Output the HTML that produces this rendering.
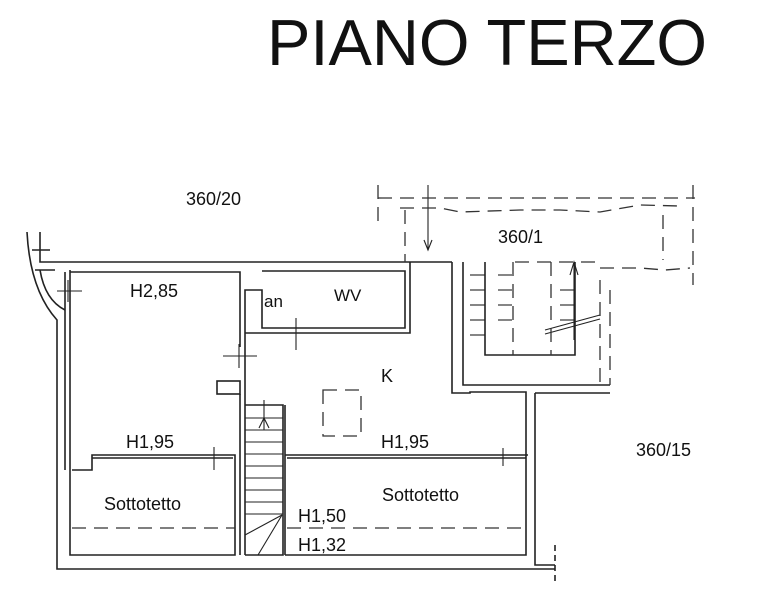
<!DOCTYPE html>
<html><head><meta charset="utf-8"><style>
html,body{margin:0;padding:0;background:#fff;width:767px;height:600px;overflow:hidden}
svg{display:block}
text{font-family:"Liberation Sans",Arial,sans-serif;fill:#111}
</style></head><body>
<svg width="767" height="600" viewBox="0 0 767 600" xmlns="http://www.w3.org/2000/svg">
<text x="267" y="65" font-size="65" textLength="440" lengthAdjust="spacingAndGlyphs">PIANO TERZO</text>
<text x="186" y="205" font-size="18">360/20</text>
<text x="498" y="243" font-size="18">360/1</text>
<text x="636" y="456" font-size="18">360/15</text>
<text x="130" y="297" font-size="18">H2,85</text>
<text x="264" y="307" font-size="17">an</text>
<text x="334" y="301" font-size="17">WV</text>
<text x="381" y="382" font-size="18">K</text>
<text x="126" y="448" font-size="18">H1,95</text>
<text x="381" y="448" font-size="18">H1,95</text>
<text x="104" y="510" font-size="18">Sottotetto</text>
<text x="382" y="501" font-size="18">Sottotetto</text>
<text x="298" y="522" font-size="18">H1,50</text>
<text x="298" y="551" font-size="18">H1,32</text>
<g fill="none" stroke="#222" stroke-width="1.6">
<polyline points="40,232 40,262 452,262"/>
<path d="M27,232 Q30,290 57,320 L57,569 L555,569"/>
<path d="M40,270 Q45,300 65,310"/>
<line x1="32" y1="250" x2="50" y2="250"/>
<line x1="35" y1="270" x2="55" y2="270"/>
<polyline points="70,270 70,555 235,555 235,455 92,455 92,470 72,470"/>
<polyline points="70,272 240,272 240,347"/>
<polyline points="65,272 65,470"/>
<rect x="217" y="381" width="23" height="13"/>
<line x1="240" y1="394" x2="240" y2="555"/>
<polyline points="262,271 405,271 405,328 262,328 262,290 245,290 245,555"/>
<polyline points="245,333 410,333 410,262"/>
<polyline points="245,555 283,555 283,405 245,405"/>
<polyline points="285,555 285,405"/>
<g stroke-width="1.1">
<line x1="245" y1="418" x2="283" y2="418"/><line x1="245" y1="430" x2="283" y2="430"/>
<line x1="245" y1="442" x2="283" y2="442"/><line x1="245" y1="454" x2="283" y2="454"/>
<line x1="245" y1="466" x2="283" y2="466"/><line x1="245" y1="478" x2="283" y2="478"/>
<line x1="245" y1="490" x2="283" y2="490"/><line x1="245" y1="502" x2="283" y2="502"/>
<line x1="245" y1="514" x2="283" y2="514"/>
<line x1="264" y1="400" x2="264" y2="430"/>
<polyline points="259,428 264,418 269,428"/>
<line x1="245" y1="535" x2="282" y2="515"/><line x1="258" y1="555" x2="282" y2="515"/>
</g>
<polyline points="285,455 528,455"/>
<polyline points="287,458 526,458"/>
<polyline points="92,458 233,458"/>
<polyline points="452,262 452,393 470,393 470,392 526,392 526,555 285,555"/>
<polyline points="463,262 463,385 610,385"/>
<polyline points="535,393 610,393"/>
<polyline points="535,393 535,565 555,565"/>
<polyline points="485,262 485,355 575,355 575,262"/>
<line x1="555" y1="545" x2="555" y2="585" stroke-dasharray="6,4"/>
<g stroke-width="1.1">
<line x1="57" y1="291" x2="82" y2="291"/><line x1="68" y1="280" x2="68" y2="302"/>
<line x1="223" y1="356" x2="257" y2="356"/><line x1="239" y1="344" x2="239" y2="368"/>
<line x1="214" y1="447" x2="214" y2="470"/>
<line x1="296" y1="318" x2="296" y2="350"/>
<line x1="503" y1="448" x2="503" y2="466"/>
<line x1="428" y1="185" x2="428" y2="250"/><polyline points="424,240 428,250 432,240"/>
<line x1="574" y1="262" x2="574" y2="340"/><polyline points="570,275 574,262 578,275"/>
<line x1="545" y1="330" x2="600" y2="315"/><line x1="545" y1="334" x2="600" y2="319"/>
</g>
<g stroke-width="1.1">
<line x1="470" y1="275" x2="485" y2="275"/><line x1="470" y1="290" x2="485" y2="290"/>
<line x1="470" y1="305" x2="485" y2="305"/><line x1="470" y1="320" x2="485" y2="320"/>
<line x1="470" y1="335" x2="485" y2="335"/>
<line x1="498" y1="275" x2="512" y2="275"/><line x1="498" y1="290" x2="512" y2="290"/>
<line x1="498" y1="305" x2="512" y2="305"/><line x1="498" y1="320" x2="512" y2="320"/>
<line x1="560" y1="290" x2="575" y2="290"/><line x1="560" y1="305" x2="575" y2="305"/>
<line x1="560" y1="320" x2="575" y2="320"/>
</g>
</g>
<g fill="none" stroke="#333" stroke-width="1.3" stroke-dasharray="14,8">
<line x1="72" y1="528" x2="235" y2="528"/>
<line x1="287" y1="528" x2="526" y2="528"/>
<rect x="323" y="390" width="38" height="46"/>
<line x1="378" y1="185" x2="378" y2="225"/>
<line x1="378" y1="198" x2="695" y2="198"/>
<polyline points="400,208 440,208 460,212 520,210 560,210 600,212 640,205 680,206"/>
<line x1="693" y1="185" x2="693" y2="285"/>
<line x1="405" y1="210" x2="405" y2="262"/>
<line x1="663" y1="215" x2="663" y2="260"/>
<polyline points="600,268 640,268 665,270 690,268"/>
<line x1="513" y1="262" x2="513" y2="355"/>
<line x1="551" y1="262" x2="551" y2="355"/>
<line x1="600" y1="280" x2="600" y2="385"/>
<line x1="610" y1="290" x2="610" y2="385"/>
<line x1="515" y1="262" x2="600" y2="262"/>
</g>
</svg>
</body></html>
